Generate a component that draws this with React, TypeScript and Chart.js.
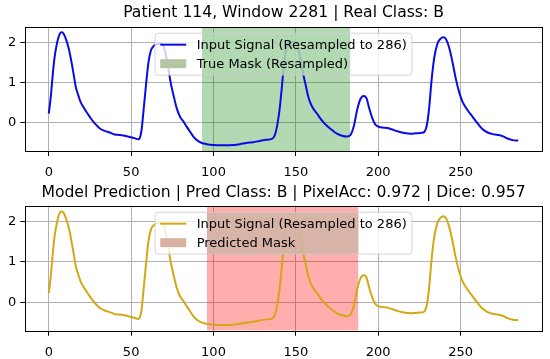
import React, { useEffect, useRef } from 'react';
import { Chart, registerables } from 'chart.js';

Chart.register(...registerables);

// ---- data ----
const signalX = [
  0, 1.2, 2.2, 3.4, 4.7, 5.9, 7.1, 8, 9.1, 10.7, 12.4, 13.8, 15.2, 16.4, 17.9, 19.3, 20.9, 22.9, 24.9, 27,
  29, 31, 34, 37, 40, 43, 46, 49, 52, 54.4, 55.4, 56.4, 57.4, 59, 60.5, 62, 63.5, 65.5, 67.5, 69.5,
  71, 72.5, 74, 75.7, 77.7, 79.7, 81.8, 83.8, 85.8, 87.8, 89.9, 92.9, 96, 100, 104, 108, 112, 116, 120, 124,
  128, 132, 135.5, 137.1, 138.6, 140.2, 141.6, 143, 144.5, 146.5, 148.5, 150.5, 152.5, 154, 155.8, 157.8, 159.9, 163, 166, 169,
  172, 175, 178, 181, 183.2, 185.2, 187.3, 189.3, 191.3, 193, 194.4, 196.4, 198.4, 201.5, 205.5, 208, 211.6, 215.7, 219.7, 222.8,
  225.8, 227.8, 229.5, 230.9, 232.3, 233.9, 235.9, 238, 239.6, 241, 243, 245.1, 247.1, 249.1, 251.2, 254.2, 257.3, 260.3, 263.4, 266.4,
  269.4, 272.5, 275.5, 278.5, 281.6, 285,
];
const signalY = [
  0.23, 0.64, 1.1, 1.59, 1.92, 2.13, 2.24, 2.25, 2.21, 2.05, 1.8, 1.51, 1.18, 0.89, 0.69, 0.52, 0.4, 0.27, 0.15, 0.03,
  -0.06, -0.14, -0.2, -0.24, -0.29, -0.3, -0.32, -0.35, -0.38, -0.41, -0.36, -0.16, 0.25, 0.93, 1.5, 1.8, 1.9, 1.96, 1.97, 1.93,
  1.7, 1.38, 1.0, 0.69, 0.36, 0.15, 0.03, -0.1, -0.22, -0.34, -0.43, -0.5, -0.53, -0.55, -0.56, -0.56, -0.55, -0.53, -0.5, -0.48,
  -0.45, -0.42, -0.4, -0.32, -0.08, 0.36, 0.93, 1.55, 1.9, 2.0, 2.01, 1.95, 1.65, 1.3, 0.97, 0.61, 0.4, 0.22, 0.05, -0.08,
  -0.18, -0.27, -0.32, -0.34, -0.3, -0.08, 0.34, 0.6, 0.67, 0.6, 0.38, 0.12, -0.05, -0.11, -0.13, -0.16, -0.21, -0.25, -0.27, -0.26,
  -0.25, -0.23, -0.06, 0.36, 1.02, 1.59, 1.96, 2.1, 2.13, 2.09, 1.88, 1.51, 1.1, 0.77, 0.52, 0.32, 0.15, -0.01, -0.16, -0.24,
  -0.28, -0.3, -0.33, -0.39, -0.43, -0.44,
];
const xTicks = [0, 50, 100, 150, 200, 250];
const yTicks = [0, 1, 2];
const xRange = [-14.25, 299.25];
const yRange = [-0.7, 2.39];
const trueMaskRange = [93, 183];
const predMaskRange = [96, 188];
const topTitle = 'Patient 114, Window 2281 | Real Class: B';
const bottomTitle = 'Model Prediction | Pred Class: B | PixelAcc: 0.972 | Dice: 0.957';
const signalLabel = 'Input Signal (Resampled to 286)';
const trueMaskLabel = 'True Mask (Resampled)';
const predMaskLabel = 'Predicted Mask';

const FONT = '"DejaVu Sans", "Liberation Sans", sans-serif';

const mplPlugin = {
  id: 'mplDecor',
  afterDatasetsDraw(chart: any) {
    const { ctx, chartArea } = chart;
    const L = Math.round(chartArea.left) + 0.5;
    const R = Math.round(chartArea.right) + 0.5;
    const T = Math.round(chartArea.top) + 0.5;
    const B = Math.round(chartArea.bottom) + 0.5;
    ctx.save();
    ctx.strokeStyle = '#000';
    ctx.lineWidth = 1;
    ctx.strokeRect(L, T, R - L, B - T);

    // legend (matplotlib style, upper center)
    const fs = 13;
    ctx.font = `${fs}px ${FONT}`;
    const dsets = chart.data.datasets;
    const textW = Math.max(...dsets.map((d: any) => ctx.measureText(d.label).width));
    const pad = 0.4 * fs;
    const hl = 2 * fs;
    const htp = 0.8 * fs;
    const rowH = 12.5;
    const ls = 0.5 * fs;
    const w = pad * 2 + hl + htp + textW;
    const h = pad * 2 + rowH * dsets.length + ls * (dsets.length - 1);
    const cx = (chartArea.left + chartArea.right) / 2;
    const x0 = cx - w / 2;
    const y0 = chartArea.top + 0.5 * fs;
    const r = 3;
    const path = () => {
      ctx.beginPath();
      ctx.moveTo(x0 + r, y0);
      ctx.lineTo(x0 + w - r, y0);
      ctx.arcTo(x0 + w, y0, x0 + w, y0 + r, r);
      ctx.lineTo(x0 + w, y0 + h - r);
      ctx.arcTo(x0 + w, y0 + h, x0 + w - r, y0 + h, r);
      ctx.lineTo(x0 + r, y0 + h);
      ctx.arcTo(x0, y0 + h, x0, y0 + h - r, r);
      ctx.lineTo(x0, y0 + r);
      ctx.arcTo(x0, y0, x0 + r, y0, r);
      ctx.closePath();
    };
    path();
    ctx.fillStyle = 'rgba(255,255,255,0.8)';
    ctx.fill();

    // the shaded span keeps its tint inside the legend frame
    const xs = chart.scales.x;
    dsets.forEach((d: any) => {
      if (d.legendKind !== 'patch') return;
      const a = Math.max(xs.getPixelForValue(d.data[0].x), x0);
      const b = Math.min(xs.getPixelForValue(d.data[d.data.length - 1].x), x0 + w);
      if (b > a) {
        ctx.save();
        path();
        ctx.clip();
        ctx.fillStyle = d.legendOverlay;
        ctx.fillRect(a, y0, b - a, h);
        ctx.restore();
      }
    });

    path();
    ctx.strokeStyle = 'rgba(204,204,204,0.8)';
    ctx.lineWidth = 1;
    ctx.stroke();

    dsets.forEach((d: any, i: number) => {
      const cy = y0 + pad + rowH / 2 + i * (rowH + ls);
      const hx = x0 + pad;
      if (d.legendKind === 'line') {
        ctx.strokeStyle = d.legendColor;
        ctx.lineWidth = 2;
        ctx.beginPath();
        ctx.moveTo(hx, cy);
        ctx.lineTo(hx + hl, cy);
        ctx.stroke();
      } else {
        ctx.fillStyle = d.legendColor;
        ctx.fillRect(hx, cy - 4.5, hl, 9);
      }
      ctx.fillStyle = '#000';
      ctx.textBaseline = 'middle';
      ctx.textAlign = 'left';
      ctx.fillText(d.label, hx + hl + htp, cy + 0.5);
    });
    ctx.restore();
  },
};

type PanelProps = {
  title: string;
  lineColor: string;
  maskRange: number[];
  maskColor: string;
  maskLabel: string;
  legendPatch: string;
  legendOverlay: string;
  height: number;
  xAxisHeight: number;
  titlePad: { top: number; bottom: number };
};

function Panel(p: PanelProps) {
  const ref = useRef<HTMLCanvasElement | null>(null);
  useEffect(() => {
    if (!ref.current) return;
    const signal = signalX.map((x, i) => ({ x, y: signalY[i] }));
    const mask = [
      { x: p.maskRange[0], y: yRange[1] },
      { x: p.maskRange[1], y: yRange[1] },
    ];
    const chart = new Chart(ref.current, {
      type: 'line',
      data: {
        datasets: [
          {
            label: signalLabel,
            data: signal,
            borderColor: p.lineColor,
            borderWidth: 2,
            pointRadius: 0,
            fill: false,
            cubicInterpolationMode: 'monotone',
            legendKind: 'line',
            legendColor: p.lineColor,
          } as any,
          {
            label: p.maskLabel,
            data: mask,
            borderColor: 'transparent',
            borderWidth: 0,
            pointRadius: 0,
            backgroundColor: p.maskColor,
            fill: 'start',
            legendKind: 'patch',
            legendColor: p.legendPatch,
            legendOverlay: p.legendOverlay,
          } as any,
        ],
      },
      options: {
        animation: false,
        responsive: false,
        maintainAspectRatio: false,
        events: [],
        layout: { padding: { left: 0, right: 8.3, top: 0, bottom: 0 } },
        plugins: {
          legend: { display: false },
          tooltip: { enabled: false },
          title: {
            display: true,
            fullSize: false,
            text: p.title,
            color: '#000',
            font: { family: FONT, size: 15.6, weight: 'normal' },
            padding: p.titlePad,
          },
        },
        scales: {
          x: {
            type: 'linear',
            min: xRange[0],
            max: xRange[1],
            afterBuildTicks: (s: any) => {
              s.ticks = xTicks.map((v) => ({ value: v }));
            },
            afterFit: (s: any) => {
              s.height = p.xAxisHeight;
            },
            ticks: {
              color: '#000',
              font: { family: FONT, size: 13 },
              padding: 9,
              maxRotation: 0,
              autoSkip: false,
            },
            grid: {
              color: '#b0b0b0',
              lineWidth: 1,
              tickColor: '#000',
              tickLength: 5,
              drawTicks: true,
            },
            border: { display: false },
          },
          y: {
            type: 'linear',
            min: yRange[0],
            max: yRange[1],
            afterBuildTicks: (s: any) => {
              s.ticks = yTicks.map((v) => ({ value: v }));
            },
            afterFit: (s: any) => {
              s.width = 25.3;
            },
            ticks: {
              color: '#000',
              font: { family: FONT, size: 13 },
              padding: 4,
            },
            grid: {
              color: '#b0b0b0',
              lineWidth: 1,
              tickColor: '#000',
              tickLength: 5,
              drawTicks: true,
            },
            border: { display: false },
          },
        },
      } as any,
      plugins: [mplPlugin],
    });
    return () => chart.destroy();
  }, []);
  return (
    <canvas
      ref={ref}
      width={550}
      height={p.height}
      style={{ display: 'block', width: 550, height: p.height }}
    />
  );
}

export default function App() {
  return (
    <div style={{ position: 'absolute', left: 0, top: 0, width: 550, height: 359, background: '#fff' }}>
      <Panel
        title={topTitle}
        lineColor="#0a0ae6"
        maskRange={trueMaskRange}
        maskColor="rgba(0,128,0,0.3)"
        maskLabel={trueMaskLabel}
        legendPatch="#b6c6a2"
        legendOverlay="rgba(0,128,0,0.255)"
        height={180}
        xAxisHeight={29}
        titlePad={{ top: 4, bottom: 4 }}
      />
      <Panel
        title={bottomTitle}
        lineColor="#d2a814"
        maskRange={predMaskRange}
        maskColor="rgba(255,0,0,0.32)"
        maskLabel={predMaskLabel}
        legendPatch="#d8b2a2"
        legendOverlay="rgba(177,120,96,0.5)"
        height={179}
        xAxisHeight={28.3}
        titlePad={{ top: 4, bottom: 3 }}
      />
    </div>
  );
}
